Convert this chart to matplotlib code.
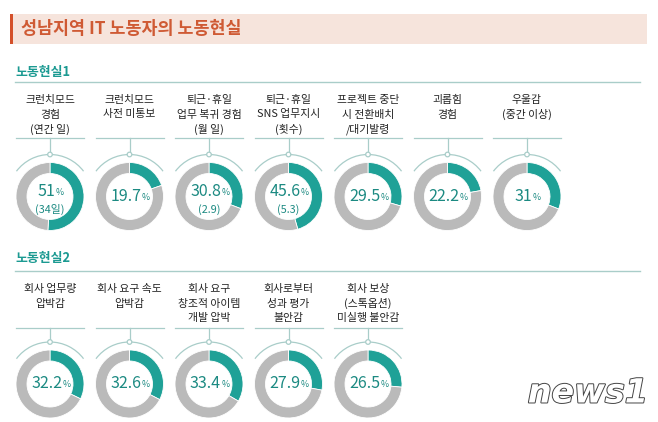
import matplotlib.pyplot as plt
import matplotlib.patheffects as pe
from matplotlib.patches import Arc, Circle, Rectangle

plt.rcParams['font.family'] = ['Noto Sans CJK KR', 'DejaVu Sans']

TITLE = '성남지역 IT 노동자의 노동현실'

# 노동현실1
labels1 = [['크런치모드', '경험', '(연간 일)'],
           ['크런치모드', '사전 미통보'],
           ['퇴근·휴일', '업무 복귀 경험', '(월 일)'],
           ['퇴근·휴일', 'SNS 업무지시', '(횟수)'],
           ['프로젝트 중단', '시 전환배치', '/대기발령'],
           ['괴롭힘', '경험'],
           ['우울감', '(중간 이상)']]
values1 = [51, 19.7, 30.8, 45.6, 29.5, 22.2, 31]
texts1 = ['51', '19.7', '30.8', '45.6', '29.5', '22.2', '31']
subs1 = ['(34일)', '', '(2.9)', '(5.3)', '', '', '']

# 노동현실2
labels2 = [['회사 업무량', '압박감'],
           ['회사 요구 속도', '압박감'],
           ['회사 요구', '창조적 아이템', '개발 압박'],
           ['회사로부터', '성과 평가', '불안감'],
           ['회사 보상', '(스톡옵션)', '미실행 불안감']]
values2 = [32.2, 32.6, 33.4, 27.9, 26.5]
texts2 = ['32.2', '32.6', '33.4', '27.9', '26.5']
subs2 = ['', '', '', '', '']

TEAL = '#1fa197'
NUM = '#1c8a82'
GRAY = '#bababa'
LINE = '#a9cdc9'
W, H = 658, 422
R = 34

fig = plt.figure(figsize=(W / 100, H / 100), dpi=100)
ax = fig.add_axes([0, 0, 1, 1])
ax.axis('off')


def Y(y):
    return H - y


rows = [(labels1, values1, texts1, subs1, 100, 138, 196.5),
        (labels2, values2, texts2, subs2, 289, 328, 384)]

# donuts first (pie resets the limits)
for labels, values, texts, subs, label_top, line_y, cy in rows:
    for i, v in enumerate(values):
        cx = 50 + 79.5 * i
        ax.pie([v, 100 - v], colors=[TEAL, GRAY], startangle=90,
               counterclock=False, center=(cx, Y(cy)), radius=R,
               wedgeprops=dict(width=11, edgecolor='white', linewidth=0.6))

ax.set_xlim(0, W)
ax.set_ylim(0, H)
ax.set_aspect('equal')
ax.axis('off')
renderer = fig.canvas.get_renderer()

# title bar
ax.add_patch(Rectangle((10, Y(44)), 637, 30, color='#f6e4dc', lw=0))
ax.add_patch(Rectangle((10, Y(44)), 3, 30, color='#d4502a', lw=0))
ax.text(21, Y(29.5), TITLE, fontsize=12.5, color='#cf5a34', fontweight='bold',
        va='center', ha='left')

for name, ytxt, yline in [('노동현실1', 72, 82), ('노동현실2', 258, 271)]:
    ax.text(15, Y(ytxt), name, fontsize=9.3, color='#1c9a92', fontweight='bold',
            va='center', ha='left')
    ax.plot([15, 640], [Y(yline), Y(yline)], color=LINE, lw=1)

for labels, values, texts, subs, label_top, line_y, cy in rows:
    for i, (lab, t, s) in enumerate(zip(labels, texts, subs)):
        cx = 50 + 79.5 * i
        for j, line in enumerate(lab):
            ax.text(cx, Y(label_top + 14.5 * j), line, fontsize=7.8, color='#222222',
                    ha='center', va='center')
        ax.plot([cx - R, cx + R], [Y(line_y), Y(line_y)], color=LINE, lw=0.9)
        ax.plot([cx, cx], [Y(line_y), Y(cy - 42)], color=LINE, lw=0.9)
        ax.add_patch(Arc((cx, Y(cy)), 84, 84, theta1=37, theta2=143,
                         color=LINE, lw=0.9))
        ax.add_patch(Circle((cx, Y(cy - 42)), 2.3, facecolor='white',
                            edgecolor=LINE, lw=0.9, zorder=3))
        ny = cy - 4.5 if s else cy
        num = ax.text(cx - 3.5, Y(ny), t, fontsize=11.5, color=NUM,
                      fontweight='light', ha='center', va='center')
        bb = num.get_window_extent(renderer)
        ax.text(bb.x1 + 0.5, Y(ny + 0.8), '%', fontsize=6.3, color=NUM,
                ha='left', va='center')
        if s:
            ax.text(cx, Y(cy + 13), s, fontsize=7.8, color=NUM,
                    ha='center', va='center')

# watermark
ax.text(588, Y(393), 'news1', fontsize=24, fontstyle='italic', fontweight='bold',
        family='DejaVu Sans', color='white', ha='center', va='center',
        path_effects=[pe.withStroke(linewidth=1.4, foreground='#444444')])

fig.savefig('out.png', dpi=100, facecolor='white')
